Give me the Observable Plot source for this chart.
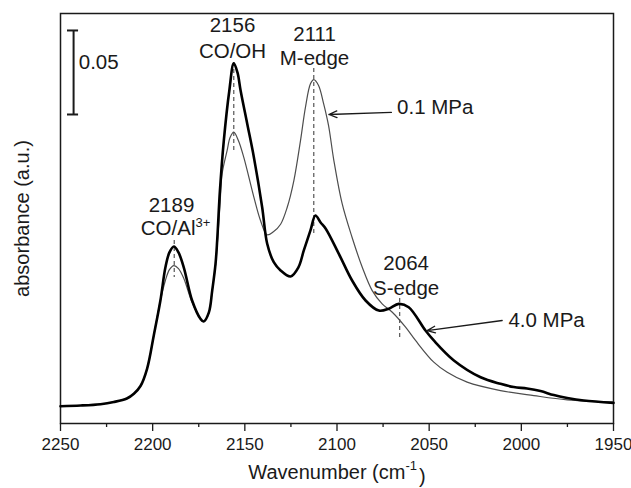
<!DOCTYPE html>
<html>
<head>
<meta charset="utf-8">
<script src="https://cdn.jsdelivr.net/npm/d3@7"></script>
<script src="https://cdn.jsdelivr.net/npm/@observablehq/plot@0.6"></script>
<style>
  html, body { margin: 0; padding: 0; background: #fff; }
  #chart { width: 631px; height: 488px; }
</style>
</head>
<body>
<div id="chart"></div>
<script>
// ---- data ----
// 4.0 MPa spectrum (thick black)
const wnThick = [2250, 2239.1, 2228.3, 2221.1, 2214, 2210.2, 2206.6, 2203, 2199.4, 2195.8, 2193.1, 2190.9, 2188.5, 2186, 2183.1, 2178.6, 2174, 2172.3, 2169.5, 2167.7, 2165.9, 2165, 2163.5, 2161.4, 2158.4, 2156, 2154, 2152.3, 2148.7, 2145.1, 2140.6, 2137.9, 2134.3, 2130.6, 2125.2, 2121, 2118, 2114.4, 2111.7, 2108.9, 2106.2, 2099, 2091.8, 2084.5, 2077.3, 2071.9, 2066.5, 2061.1, 2052, 2047.5, 2036.6, 2022.1, 2011.3, 2004.1, 1996.9, 1989.6, 1982.4, 1975.1, 1966.1, 1950];
const absThick = [0.0002, 0.0006, 0.0014, 0.0027, 0.0048, 0.0076, 0.0122, 0.0226, 0.0423, 0.0631, 0.0827, 0.0917, 0.0952, 0.0917, 0.0827, 0.0631, 0.0521, 0.0506, 0.0560, 0.0690, 0.0849, 0.0988, 0.1286, 0.1583, 0.1881, 0.2042, 0.1988, 0.1881, 0.1683, 0.1484, 0.1186, 0.0970, 0.0859, 0.0810, 0.0774, 0.0827, 0.0929, 0.1048, 0.1137, 0.1095, 0.1060, 0.0909, 0.0750, 0.0631, 0.0571, 0.0582, 0.0611, 0.0591, 0.0452, 0.0393, 0.0274, 0.0174, 0.0135, 0.0116, 0.0107, 0.0092, 0.0068, 0.0051, 0.0036, 0.0022];

// 0.1 MPa spectrum (thin grey)
const wnThin = [2250, 2239.1, 2228.3, 2221.1, 2214, 2210.2, 2206.6, 2203, 2199.4, 2195.8, 2193.1, 2190.9, 2188.5, 2186, 2183.1, 2178.6, 2174, 2172.3, 2169.5, 2167.7, 2165.9, 2165, 2163.5, 2162.3, 2159.6, 2158, 2156, 2153.5, 2150.6, 2145.1, 2141.5, 2137.9, 2134.5, 2130.6, 2127, 2123.4, 2119.8, 2117.1, 2114.4, 2112.6, 2110, 2107.3, 2104.6, 2101.7, 2097.2, 2091.8, 2086.3, 2080.9, 2075.5, 2070, 2062.8, 2057.4, 2047.5, 2040.2, 2029.4, 2011.3, 1993.2, 1975.1, 1950];
const absThin = [0.0002, 0.0006, 0.0014, 0.0027, 0.0048, 0.0076, 0.0122, 0.0226, 0.0423, 0.0631, 0.0750, 0.0815, 0.0839, 0.0821, 0.0762, 0.0619, 0.0521, 0.0506, 0.0560, 0.0690, 0.0839, 0.0958, 0.1196, 0.1387, 0.1524, 0.1601, 0.1633, 0.1583, 0.1484, 0.1246, 0.1107, 0.1022, 0.1040, 0.1085, 0.1186, 0.1345, 0.1583, 0.1782, 0.1921, 0.1946, 0.1911, 0.1804, 0.1673, 0.1464, 0.1207, 0.1006, 0.0829, 0.0690, 0.0611, 0.0561, 0.0472, 0.0393, 0.0264, 0.0204, 0.0145, 0.0095, 0.0065, 0.0040, 0.0026];

// axis ticks
const majorTicks = [2250, 2200, 2150, 2100, 2050, 2000, 1950];
const minorTicks = [2225, 2175, 2125, 2075, 2025, 1975];

// peak markers (dashed lines): position, top, bottom
const peakWn   = [2188.3, 2156, 2112.6, 2066];
const peakTop  = [0.0988, 0.2048, 0.2012, 0.0643];
const peakBot  = [0.0768, 0.1512, 0.1018, 0.0411];

// peak labels
const labelText = ["2189", "CO/Al3+", "2156", "CO/OH", "2111", "M-edge", "2064", "S-edge"];
const labelWn   = [2189.8, 2187.6, 2156.7, 2156.7, 2112.2, 2112.2, 2062.5, 2062.5];
const labelAbs  = [0.1196, 0.1060, 0.2268, 0.2113, 0.2217, 0.2074, 0.0849, 0.0705];

// pressure labels + arrows
const pressText = ["0.1 MPa", "4.0 MPa"];
const pressWn   = [2067.4, 2007.0];
const pressAbs  = [0.1777, 0.0515];
const arrowWn1  = [2070.5, 2010.4];
const arrowAbs1 = [0.1750, 0.0512];
const arrowWn2  = [2104.4, 2051.1];
const arrowAbs2 = [0.1738, 0.0452];

// scale bar (0.05 absorbance)
const barWn = 2242.9, barTop = 0.2238, barBot = 0.1738, barCapL = 2246.2, barCapR = 2240.2;
const barLabel = "0.05", barLabelWn = 2240.1, barLabelAbs = 0.2045;

// ---- tables ----
const thick = wnThick.map((w, i) => ({w, a: absThick[i]}));
const thin = wnThin.map((w, i) => ({w, a: absThin[i]}));
const peaks = peakWn.map((w, i) => ({w, y1: peakTop[i], y2: peakBot[i]}));
const labels = labelText.map((t, i) => ({t, w: labelWn[i], a: labelAbs[i]}));
const press = pressText.map((t, i) => ({t, w: pressWn[i], a: pressAbs[i]}));
const arrows = arrowWn1.map((w, i) => ({x1: w, y1: arrowAbs1[i], x2: arrowWn2[i], y2: arrowAbs2[i]}));

const ink = "#1a1a1a";
const font = "Arial, 'Liberation Sans', sans-serif";
const annSize = 20.5;

const plot = Plot.plot({
  width: 631,
  height: 488,
  marginLeft: 60,
  marginRight: 18,
  marginTop: 13,
  marginBottom: 65,
  style: {fontFamily: font, fontSize: "17px", color: ink, background: "#fff"},
  x: {domain: [2250, 1950], label: null},
  y: {domain: [-0.0101, 0.2339], axis: null},
  marks: [
    Plot.frame({stroke: ink, strokeWidth: 1.5}),
    Plot.axisX({ticks: majorTicks, tickSize: 8, tickPadding: 6, tickFormat: d3.format("d"), stroke: ink, strokeWidth: 1.3, fill: ink, label: null}),
    Plot.axisX({ticks: minorTicks, tickSize: 4, tickFormat: () => "", stroke: ink, strokeWidth: 1.3, label: null}),
    Plot.ruleX(peaks, {x: "w", y1: "y1", y2: "y2", stroke: "#555", strokeWidth: 1.2, strokeDasharray: "4,3"}),
    Plot.line(thin, {x: "w", y: "a", curve: "catmull-rom", stroke: "#4d4d4d", strokeWidth: 1.2}),
    Plot.line(thick, {x: "w", y: "a", curve: "catmull-rom", stroke: "#000", strokeWidth: 2.6}),
    Plot.text(labels, {x: "w", y: "a", text: "t", fontSize: annSize, fill: ink, textAnchor: "middle"}),
    Plot.text(press, {x: "w", y: "a", text: "t", fontSize: annSize, fill: ink, textAnchor: "start"}),
    Plot.arrow(arrows, {x1: "x1", y1: "y1", x2: "x2", y2: "y2", stroke: ink, strokeWidth: 1.3, headLength: 10, headAngle: 45}),
    Plot.ruleX([barWn], {y1: barTop, y2: barBot, stroke: ink, strokeWidth: 2}),
    Plot.ruleY([barTop, barBot], {x1: barCapL, x2: barCapR, stroke: ink, strokeWidth: 2}),
    Plot.text([barLabel], {x: barLabelWn, y: barLabelAbs, text: d => d, fontSize: annSize, fill: ink, textAnchor: "start"}),
    Plot.text(["absorbance (a.u.)"], {frameAnchor: "left", dx: -38, rotate: -90, textAnchor: "middle", fontSize: 20, fill: ink}),
    Plot.text(["Wavenumber (cm-1)"], {frameAnchor: "bottom", dy: 55, textAnchor: "middle", fontSize: 20, fill: ink})
  ]
});

// superscripts
d3.select(plot).selectAll("text").each(function() {
  const s = this.textContent;
  if (s === "CO/Al3+") {
    this.textContent = "CO/Al";
    d3.select(this).append("tspan").attr("font-size", 13).attr("dy", "-0.65em").text("3+");
  } else if (s === "Wavenumber (cm-1)") {
    this.textContent = "Wavenumber (cm";
    d3.select(this).append("tspan").attr("font-size", 13).attr("dy", "-0.65em").text("-1");
    d3.select(this).append("tspan").attr("dy", "0.65em").attr("dx", "2").text(")");
  }
});

document.getElementById("chart").appendChild(plot);
</script>
</body>
</html>
